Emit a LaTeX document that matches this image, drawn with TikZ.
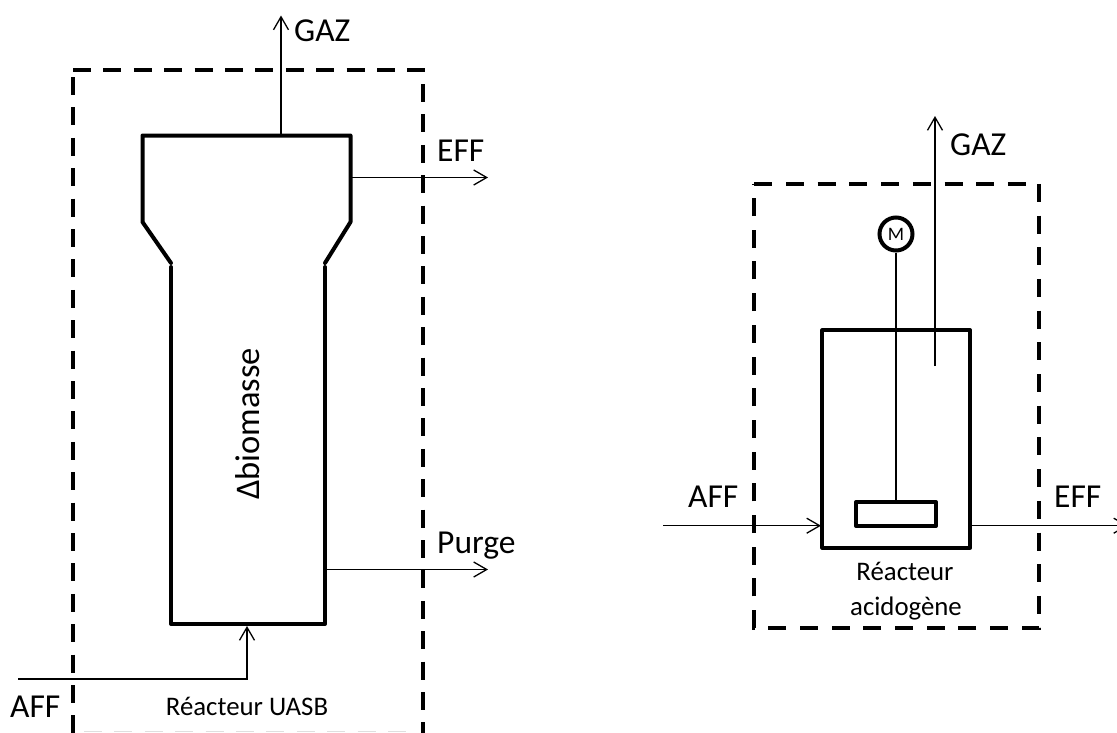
\documentclass[tikz,border=0pt]{standalone}
\usepackage{fontspec}
\setmainfont{Carlito}
\usetikzlibrary{arrows.meta}
\tikzset{
  wall/.style={line width=4pt,line cap=round,line join=round},
  boundary/.style={line width=4pt,dash pattern=on 18pt off 12.4pt},
  boundaryb/.style={line width=4pt,dash pattern=on 18pt off 13.7pt},
  flow/.style={line width=1.3pt,-{Straight Barb[length=13pt,width=15pt,line width=1.3pt]}},
  shaft/.style={line width=1.3pt},
  big/.style={anchor=base west,inner sep=0pt,font=\fontsize{33.5}{36}\selectfont},
  small/.style={anchor=base,inner sep=0pt,font=\fontsize{26.8}{28}\selectfont},
}
\begin{document}
\begin{tikzpicture}[x=1pt,y=-1pt]
\clip (0,0) rectangle (1117,732);
\fill[white] (0,0) rectangle (1117,732);
% left system boundary
\draw[boundary] (73,69.5) -- (423,69.5) -- (423,84);
\draw[boundary] (423,84) -- (423,734);
\draw[boundary] (73,77) -- (73,734);
\draw[line width=1.5pt,gray!25,dash pattern=on 18pt off 12.4pt] (84,731.5) -- (415,731.5);
% UASB reactor
\draw[wall] (171,263) -- (142.5,222) -- (142.5,135.5) -- (350.5,135.5) -- (350.5,222) -- (325,263);
\draw[wall] (171,267) -- (171,624) -- (325,624) -- (325,267);
% left anchors
\coordinate (gazA) at (281,135.5);
\coordinate (gazB) at (281,15.5);
\coordinate (effA) at (352,177.5);
\coordinate (effB) at (488,177.5);
\coordinate (purA) at (326,569.5);
\coordinate (purB) at (488,569.5);
\coordinate (affA) at (18,679);
\coordinate (affK) at (247,679);
\coordinate (affB) at (247,626);
\draw[flow] (gazA) -- (gazB);
\draw[flow] (effA) -- (effB);
\draw[flow] (purA) -- (purB);
\draw[flow] (affA) -- (affK) -- (affB);
\node[big] (t1) at (294,41) {GAZ};
\node[big] (t2) at (437,161) {EFF};
\node[big] (t3) at (437,553) {Purge};
\node[big] (t4) at (10,717) {AFF};
\node[small] (t5) at (247,715) {Réacteur UASB};
\node[anchor=base,inner sep=0pt,rotate=90,font=\fontsize{34.5}{36}\selectfont] (t6) at (259,424) {Δbiomasse};
% right system boundary
\draw[boundaryb] (754.3,183.5) -- (1039.3,183.5) -- (1039.3,628) -- (754.3,628) -- cycle;
% acidogenic reactor
\node[draw,wall,minimum width=147.5pt,minimum height=217.5pt,inner sep=0pt] (reac) at (896.2,439) {};
\node[draw,wall,minimum width=80pt,minimum height=23.5pt,inner sep=0pt] (pad) at (896,514) {};
\node[draw,circle,line width=4pt,minimum size=33pt,inner sep=0pt,font=\fontsize{19}{20}\selectfont] (mot) at (896,234) {M};
\draw[shaft] (mot) -- (pad);
\coordinate (gaz2A) at (935,366);
\coordinate (gaz2B) at (935,116);
\coordinate (aff2A) at (663,525.7);
\coordinate (aff2B) at (821,525.7);
\coordinate (eff2A) at (972,525.7);
\coordinate (eff2B) at (1128,525.7);
\draw[flow] (gaz2A) -- (gaz2B);
\draw[flow] (aff2A) -- (aff2B);
\draw[flow] (eff2A) -- (eff2B);
\node[big] (t7) at (950,155) {GAZ};
\node[big] (t8) at (688,507) {AFF};
\node[big] (t9) at (1054,507) {EFF};
\node[small] (t10) at (905,580) {Réacteur};
\node[small] (t11) at (906,615) {acidogène};
\end{tikzpicture}
\end{document}
